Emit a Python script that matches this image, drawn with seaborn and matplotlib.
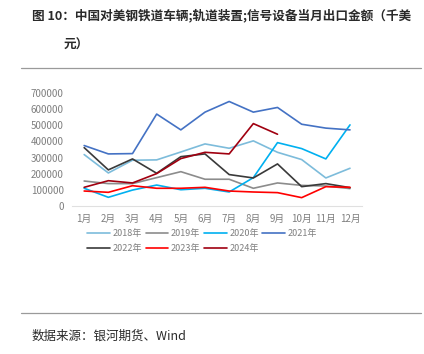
import pandas as pd
import seaborn as sns
import matplotlib.pyplot as plt

# monthly export value, thousand USD
months = ['1月', '2月', '3月', '4月', '5月', '6月', '7月', '8月', '9月', '10月', '11月', '12月']
y2018 = [319000, 205000, 284000, 286000, 335000, 385000, 358000, 404000, 333000, 288000, 174000, 234000]
y2019 = [155000, 139000, 139000, 176000, 213000, 166000, 166000, 110000, 143000, 128000, 124000, 108000]
y2020 = [110000, 54000, 99000, 130000, 101000, 110000, 87000, 176000, 393000, 356000, 292000, 503000]
y2021 = [375000, 323000, 325000, 570000, 472000, 582000, 648000, 582000, 611000, 507000, 483000, 472000]
y2022 = [362000, 224000, 292000, 203000, 306000, 323000, 195000, 174000, 261000, 120000, 139000, 114000]
y2023 = [93000, 85000, 126000, 110000, 110000, 116000, 93000, 87000, 83000, 52000, 120000, 116000]
y2024 = [116000, 157000, 143000, 201000, 294000, 333000, 323000, 511000, 445000]

series = {'2018年': y2018, '2019年': y2019, '2020年': y2020, '2021年': y2021,
          '2022年': y2022, '2023年': y2023, '2024年': y2024}
colors = ['#7DBCDB', '#8C8C8C', '#00B0F0', '#4472C4', '#3A3A3A', '#FF0000', '#A00010']

rows = []
for name, vals in series.items():
    for i, v in enumerate(vals):
        rows.append({'月': i, '年份': name, '金额': v})
df = pd.DataFrame(rows)

sns.set_style('white')
plt.rcParams['font.family'] = ['Noto Sans CJK SC', 'DejaVu Sans']

fig = plt.figure(figsize=(4.24, 3.54), dpi=100)
ax = fig.add_axes([0.170, 0.418, 0.684, 0.319])

sns.lineplot(data=df, x='月', y='金额', hue='年份', palette=colors,
             linewidth=1.2, ax=ax, legend=True)

ax.set_xlim(-0.5, 11.5)
ax.set_ylim(0, 700000)
ax.set_yticks(range(0, 700001, 100000))
ax.set_yticklabels([str(v) for v in range(0, 700001, 100000)])
ax.set_xticks(range(12))
ax.set_xticklabels(months)
ax.set_xlabel('')
ax.set_ylabel('')
ax.tick_params(axis='both', colors='#7F7F7F', labelsize=7, length=0, pad=6)
for s in ['top', 'right', 'left']:
    ax.spines[s].set_visible(False)
ax.spines['bottom'].set_color('#E0E0E0')
ax.spines['bottom'].set_linewidth(0.8)

# row-major legend order for 4 columns
handles, labels = ax.get_legend_handles_labels()
order = [0, 4, 1, 5, 2, 6, 3]
ax.legend([handles[i] for i in order], [labels[i] for i in order],
          loc='upper left', bbox_to_anchor=(0.04, -0.17), ncol=4, frameon=False,
          fontsize=6.5, labelcolor='#7F7F7F', handlelength=2.5, handletextpad=0.3,
          columnspacing=0.4, borderaxespad=0, labelspacing=0.7)

fig.text(32 / 424, 1 - 15 / 354, '图 10：中国对美钢铁道车辆;轨道装置;信号设备当月出口金额（千美',
         fontsize=9.1, fontweight='bold', color='#2A2A2A', va='center', ha='left')
fig.text(64 / 424, 1 - 45 / 354, '元）', fontsize=9.1, fontweight='bold',
         color='#2A2A2A', va='center', ha='left')
fig.text(32 / 424, 1 - 336 / 354, '数据来源：银河期货、Wind', fontsize=9,
         color='#2A2A2A', va='center', ha='left')

for yy in [68, 313]:
    fig.add_artist(plt.Line2D([21 / 424, 421 / 424], [1 - yy / 354, 1 - yy / 354],
                              color='#9A9A9A', linewidth=0.9))

fig.savefig('out.png', dpi=100)
